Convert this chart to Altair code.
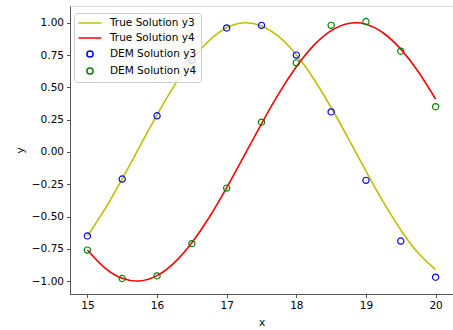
import altair as alt
import pandas as pd

# True solution curves
x_true = [15.0, 15.25, 15.5, 15.75, 16.0, 16.25, 16.5, 16.75, 17.0, 17.25, 17.5,
          17.75, 18.0, 18.25, 18.5, 18.75, 19.0, 19.25, 19.5, 19.75, 20.0]
y3_true = [-0.651, -0.443, -0.208, 0.041, 0.287, 0.515, 0.711, 0.863, 0.961, 1.000, 0.976,
           0.892, 0.752, 0.565, 0.344, 0.101, -0.149, -0.389, -0.604, -0.783, -0.912]
y4_true = [-0.759, -0.897, -0.978, -0.999, -0.958, -0.857, -0.703, -0.506, -0.276, -0.030, 0.218,
           0.453, 0.659, 0.825, 0.939, 0.995, 0.989, 0.921, 0.796, 0.623, 0.410]

# DEM solution points
x_dem = [15.0, 15.5, 16.0, 16.5, 17.0, 17.5, 18.0, 18.5, 19.0, 19.5, 20.0]
y3_dem = [-0.65, -0.21, 0.28, 0.71, 0.96, 0.98, 0.75, 0.31, -0.22, -0.69, -0.97]
y4_dem = [-0.76, -0.98, -0.96, -0.71, -0.28, 0.23, 0.69, 0.98, 1.01, 0.78, 0.35]

labels = ["True Solution y3", "True Solution y4", "DEM Solution y3", "DEM Solution y4"]
colors = ["#bfbf00", "#ff0000", "#0000ff", "#008000"]

true_df = pd.DataFrame({
    "x": x_true + x_true,
    "y": y3_true + y4_true,
    "series": [labels[0]] * len(x_true) + [labels[1]] * len(x_true),
})
dem_df = pd.DataFrame({
    "x": x_dem + x_dem,
    "y": y3_dem + y4_dem,
    "series": [labels[2]] * len(x_dem) + [labels[3]] * len(x_dem),
})

FONT = "DejaVu Sans"
FS = 10.5

color_scale = alt.Scale(domain=labels, range=colors)
line_path = "M-2.3,0L2.3,0"
circ_path = "M-0.62,0A0.62,0.62,0,1,0,0.62,0A0.62,0.62,0,1,0,-0.62,0Z"
shape_scale = alt.Scale(domain=labels, range=[line_path, line_path, circ_path, circ_path])

x_enc = alt.X("x:Q", title="x",
              scale=alt.Scale(domain=[14.75, 20.25], nice=False, zero=False),
              axis=alt.Axis(values=[15, 16, 17, 18, 19, 20], format="d", grid=False,
                            tickSize=3.5, labelPadding=3, titlePadding=6,
                            labelFont=FONT, labelFontSize=FS, titleFont=FONT,
                            titleFontSize=FS, titleFontWeight="normal",
                            labelColor="black", titleColor="black",
                            domainColor="#555555", tickColor="#555555"))
y_enc = alt.Y("y:Q", title="y",
              scale=alt.Scale(domain=[-1.1, 1.13], nice=False, zero=False),
              axis=alt.Axis(values=[-1.0, -0.75, -0.5, -0.25, 0.0, 0.25, 0.5, 0.75, 1.0],
                            format=".2f", grid=False,
                            labelExpr="replace(datum.label, '-', '\u2212')",
                            tickSize=3.5, labelPadding=3, titlePadding=6,
                            labelFont=FONT, labelFontSize=FS, titleFont=FONT,
                            titleFontSize=FS, titleFontWeight="normal",
                            labelColor="black", titleColor="black",
                            domainColor="#555555", tickColor="#555555"))

legend = alt.Legend(title=None, orient="none", legendX=4, legendY=7,
                    padding=4, strokeColor="#cccccc", fillColor="rgba(255,255,255,0.8)",
                    cornerRadius=3, labelFont=FONT, labelFontSize=FS, labelColor="black",
                    symbolSize=100, symbolStrokeWidth=1.5, symbolOffset=6,
                    labelOffset=14, rowPadding=3, symbolFillColor="transparent")

lines = alt.Chart(true_df).mark_line(strokeWidth=1.6, interpolate="natural").encode(
    x=x_enc, y=y_enc,
    color=alt.Color("series:N", scale=color_scale, legend=legend),
)

points = alt.Chart(dem_df).mark_point(filled=False, size=100, strokeWidth=1.2, opacity=1).encode(
    x=x_enc, y=y_enc,
    color=alt.Color("series:N", scale=color_scale, legend=legend),
    shape=alt.Shape("series:N", scale=shape_scale, legend=legend),
)

chart = alt.layer(lines, points).properties(
    width=383, height=288,
    autosize=alt.AutoSizeParams(type="none"),
    padding={"left": 70, "top": 6, "right": 0, "bottom": 36},
).configure_view(stroke="#555555", strokeWidth=1).configure(background="white")

chart.save("out.html", embed_options={"renderer": "svg", "actions": False})
